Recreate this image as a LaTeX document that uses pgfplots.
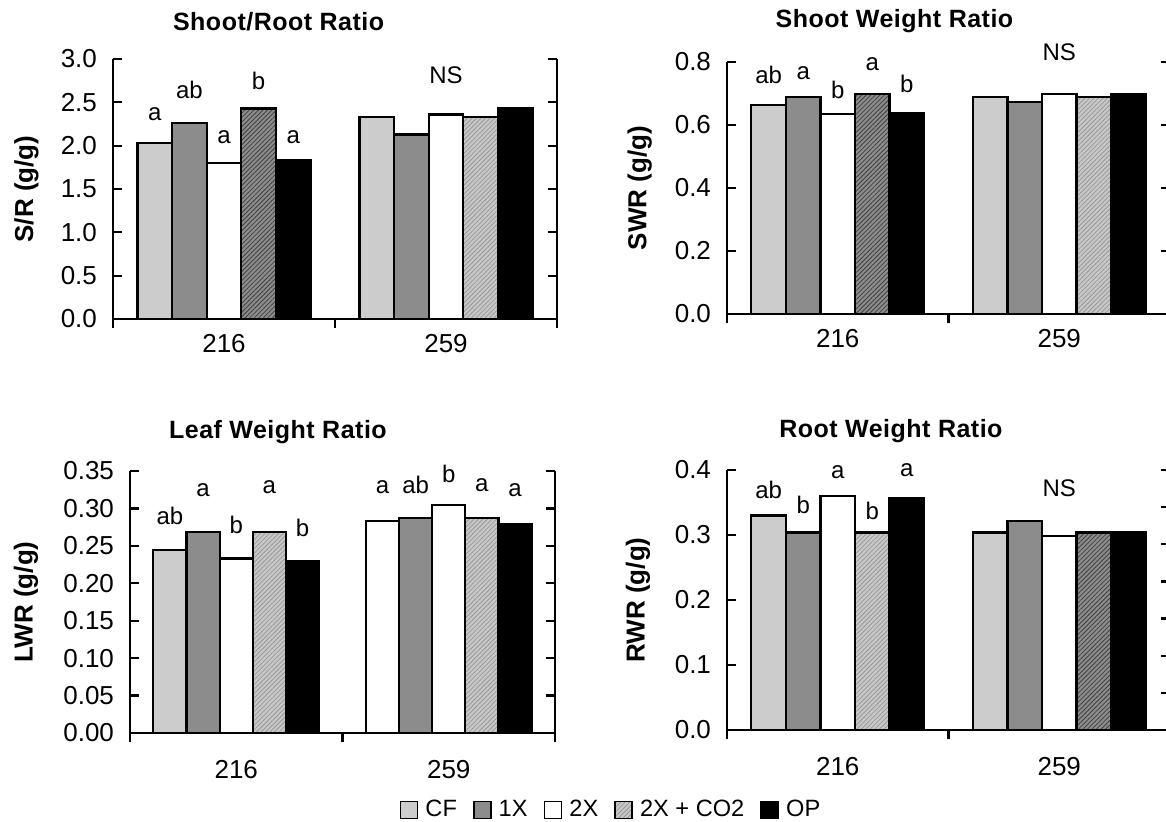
\documentclass[border=0pt]{standalone}
\usepackage{fontspec}
\setmainfont{Liberation Sans}
\usepackage{pgfplots}
\pgfplotsset{compat=1.18}
\usetikzlibrary{patterns.meta}
\definecolor{cfg}{gray}{0.80}
\definecolor{onex}{gray}{0.55}
\definecolor{lhf}{gray}{0.78}
\definecolor{dhf}{gray}{0.55}
\tikzset{lbl/.style={font=\fontsize{12}{14}\selectfont, anchor=center}}
\pgfplotsset{
  cfs/.style={fill=cfg, draw=black, line width=1.1pt},
  cfw/.style={fill=white, draw=black, line width=1.1pt},
  ones/.style={fill=onex, draw=black, line width=1.1pt},
  twos/.style={fill=white, draw=black, line width=1.1pt},
  lhs/.style={fill=lhf, draw=black, line width=1.1pt, postaction={pattern={Lines[angle=45,distance=1.6pt,line width=0.4pt]}, pattern color=black!40}},
  dhs/.style={fill=dhf, draw=black, line width=1.1pt, postaction={pattern={Lines[angle=45,distance=1.6pt,line width=0.4pt]}, pattern color=black!75}},
  ops/.style={fill=black, draw=black, line width=1.1pt},
  panel/.style={
    scale only axis, ybar, bar width=0.156,
    xmin=-0.5, xmax=1.5, ymin=0, clip=false,
    axis x line*=bottom, axis y line*=box,
    axis line style={-, line width=1.1pt},
    every tick/.style={black, line width=1.1pt},
    major tick length=4.5pt,
    xtick={-0.5,0.5,1.5}, xticklabels={,,},
    extra x ticks={0,1}, extra x tick labels={216,259},
    extra x tick style={major tick length=0pt},
    xtick align=outside, ytick align=inside,
    yticklabel pos=left,
    /pgf/number format/assume math mode=true,
    tick label style={font=\fontsize{13}{15}\selectfont},
    xticklabel style={yshift=-4pt},
    yticklabel style={xshift=-4.5pt},
    ylabel style={font=\bfseries\fontsize{13}{15}\selectfont},
    title style={font=\bfseries\fontsize{12.5}{15}\selectfont\addfontfeature{LetterSpace=2}, anchor=center, yshift=-6pt},
  },
}
\begin{document}
\begin{tikzpicture}
% ---------- Panel 1: Shoot/Root Ratio
\begin{axis}[panel, at={(56.5pt,251pt)}, anchor=south west,
  width=222pt, height=130pt, ymax=3,
  ytick={0,0.5,1,1.5,2,2.5,3}, yticklabels={0.0,0.5,1.0,1.5,2.0,2.5,3.0},
  title={Shoot/Root Ratio}, title style={at={(axis description cs:0.373,1.145)}},
  ylabel={S/R (g/g)}, ylabel style={at={(axis description cs:-0.195,0.5)}, anchor=center}]
\addplot[cfs, bar shift=-0.312] coordinates {(0,2.03) (1,2.33)};
\addplot[ones, bar shift=-0.156] coordinates {(0,2.26) (1,2.13)};
\addplot[twos, bar shift=0] coordinates {(0,1.80) (1,2.36)};
\addplot[dhs, bar shift=0.156] coordinates {(0,2.43)};
\addplot[lhs, bar shift=0.156] coordinates {(1,2.33)};
\addplot[ops, bar shift=0.312] coordinates {(0,1.83) (1,2.43)};
\node[lbl] at (axis cs:-0.312,2.36) {a};
\node[lbl] at (axis cs:-0.156,2.64) {ab};
\node[lbl] at (axis cs:0,2.10) {a};
\node[lbl] at (axis cs:0.156,2.75) {b};
\node[lbl] at (axis cs:0.312,2.10) {a};
\node[lbl] at (axis cs:1.0,2.81) {NS};
\end{axis}
% ---------- Panel 2: Shoot Weight Ratio
\begin{axis}[panel, at={(363.5pt,253.5pt)}, anchor=south west,
  width=221.5pt, height=126pt, ymax=0.8,
  ytick={0,0.2,0.4,0.6,0.8}, yticklabels={0.0,0.2,0.4,0.6,0.8},
  title={Shoot Weight Ratio}, title style={at={(axis description cs:0.378,1.162)}},
  ylabel={SWR (g/g)}, ylabel style={at={(axis description cs:-0.197,0.5)}, anchor=center}]
\addplot[cfs, bar shift=-0.312] coordinates {(0,0.663) (1,0.689)};
\addplot[ones, bar shift=-0.156] coordinates {(0,0.689) (1,0.673)};
\addplot[twos, bar shift=0] coordinates {(0,0.635) (1,0.698)};
\addplot[dhs, bar shift=0.156] coordinates {(0,0.698)};
\addplot[lhs, bar shift=0.156] coordinates {(1,0.689)};
\addplot[ops, bar shift=0.312] coordinates {(0,0.637) (1,0.699)};
\node[lbl] at (axis cs:-0.312,0.758) {ab};
\node[lbl] at (axis cs:-0.156,0.765) {a};
\node[lbl] at (axis cs:0,0.713) {b};
\node[lbl] at (axis cs:0.156,0.793) {a};
\node[lbl] at (axis cs:0.312,0.73) {b};
\node[lbl] at (axis cs:1.0,0.83) {NS};
\end{axis}
% ---------- Panel 3: Leaf Weight Ratio
\begin{axis}[panel, at={(65pt,44pt)}, anchor=south west,
  width=212.5pt, height=131pt, ymax=0.35,
  xticklabel style={yshift=-6pt},
  ytick={0,0.05,0.1,0.15,0.2,0.25,0.3,0.35},
  yticklabels={0.00,0.05,0.10,0.15,0.20,0.25,0.30,0.35},
  title={Leaf Weight Ratio}, title style={at={(axis description cs:0.348,1.15)}},
  ylabel={LWR (g/g)}, ylabel style={at={(axis description cs:-0.245,0.5)}, anchor=center},
  legend columns=5,
  legend style={at={(axis description cs:1.134,-0.294)}, anchor=center, draw=none,
    font=\fontsize{11.8}{13}\selectfont, inner sep=0pt,
    /tikz/every odd column/.append style={column sep=1.5pt},
    /tikz/every even column/.append style={column sep=6pt}},
  legend image code/.code={\draw[#1, line width=0.9pt] (0pt,-4.25pt) rectangle (8.5pt,4.25pt);}]
\addplot[cfs, bar shift=-0.312] coordinates {(0,0.245)};
\addlegendentry{CF}
\addplot[ones, bar shift=-0.156] coordinates {(0,0.268) (1,0.287)};
\addlegendentry{1X}
\addplot[twos, bar shift=0] coordinates {(0,0.233) (1,0.305)};
\addlegendentry{2X}
\addplot[lhs, bar shift=0.156] coordinates {(0,0.268) (1,0.287)};
\addlegendentry{2X + CO2}
\addplot[ops, bar shift=0.312] coordinates {(0,0.229) (1,0.279)};
\addlegendentry{OP}
\addplot[cfw, bar shift=-0.312, forget plot] coordinates {(1,0.283)};
\node[lbl] at (axis cs:-0.312,0.29) {ab};
\node[lbl] at (axis cs:-0.156,0.324) {a};
\node[lbl] at (axis cs:0,0.278) {b};
\node[lbl] at (axis cs:0.156,0.328) {a};
\node[lbl] at (axis cs:0.312,0.2735) {b};
\node[lbl] at (axis cs:0.688,0.328) {a};
\node[lbl] at (axis cs:0.844,0.331) {ab};
\node[lbl] at (axis cs:1.0,0.346) {b};
\node[lbl] at (axis cs:1.156,0.331) {a};
\node[lbl] at (axis cs:1.312,0.324) {a};
\end{axis}
% ---------- Panel 4: Root Weight Ratio
\begin{axis}[panel, at={(363.5pt,45.5pt)}, anchor=south west,
  width=221.5pt, height=130pt, ymax=0.4, ytick pos=left,
  xticklabel style={yshift=-6pt},
  ytick={0,0.1,0.2,0.3,0.4}, yticklabels={0.0,0.1,0.2,0.3,0.4},
  title={Root Weight Ratio}, title style={at={(axis description cs:0.37,1.149)}},
  ylabel={RWR (g/g)}, ylabel style={at={(axis description cs:-0.201,0.5)}, anchor=center}]
\addplot[cfs, bar shift=-0.312] coordinates {(0,0.330) (1,0.304)};
\addplot[ones, bar shift=-0.156] coordinates {(0,0.304) (1,0.321)};
\addplot[twos, bar shift=0] coordinates {(0,0.360) (1,0.299)};
\addplot[lhs, bar shift=0.156] coordinates {(0,0.304)};
\addplot[dhs, bar shift=0.156] coordinates {(1,0.304)};
\addplot[ops, bar shift=0.312] coordinates {(0,0.357) (1,0.304)};
\node[lbl] at (axis cs:-0.312,0.37) {ab};
\node[lbl] at (axis cs:-0.156,0.347) {b};
\node[lbl] at (axis cs:0,0.396) {a};
\node[lbl] at (axis cs:0.156,0.337) {b};
\node[lbl] at (axis cs:0.312,0.40) {a};
\node[lbl] at (axis cs:1.0,0.372) {NS};
\end{axis}
\begin{axis}[scale only axis, at={(363.5pt,45.5pt)}, anchor=south west,
  width=221.5pt, height=130pt, xmin=-0.5, xmax=1.5, ymin=0, ymax=0.35,
  hide x axis, axis y line*=right, axis line style={-, line width=1.1pt},
  every tick/.style={black, line width=1.1pt}, major tick length=4.5pt,
  ytick align=inside, ytick={0,0.05,0.1,0.15,0.2,0.25,0.3,0.35}, yticklabels={}]
\end{axis}
\pgfresetboundingbox
\useasboundingbox (0,0) rectangle (583pt,410.5pt);
\end{tikzpicture}
\end{document}
